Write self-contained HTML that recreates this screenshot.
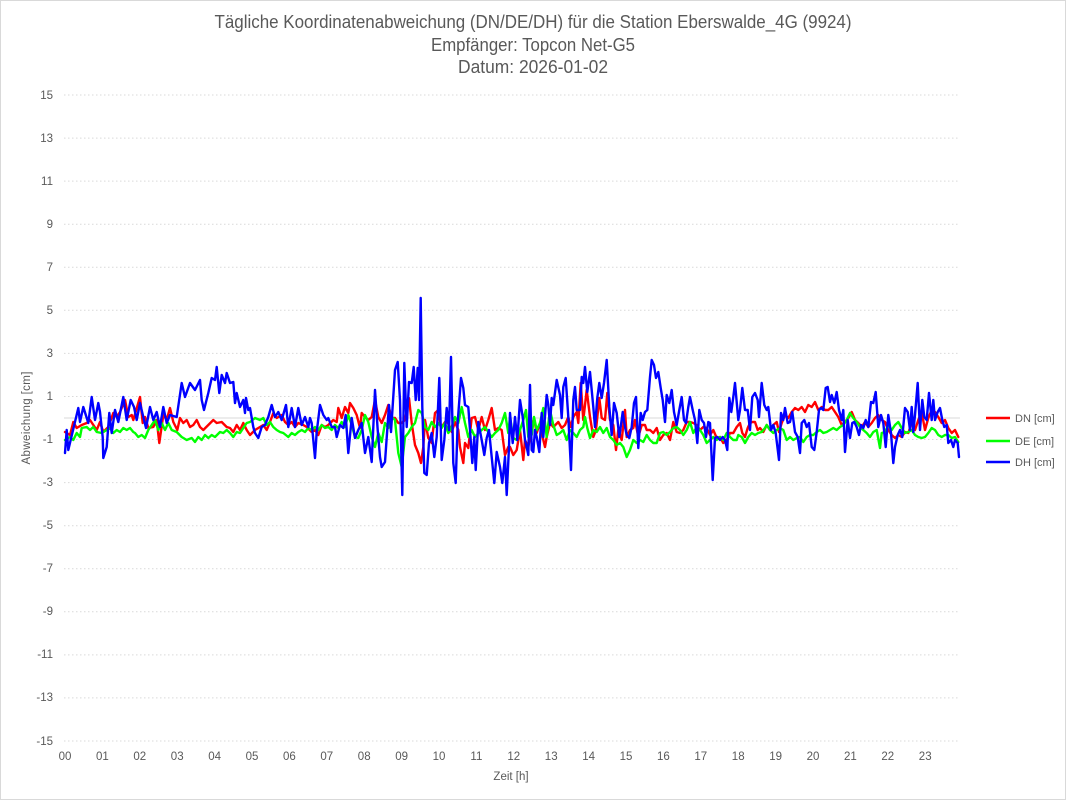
<!DOCTYPE html>
<html><head><meta charset="utf-8"><style>
html,body{margin:0;padding:0;background:#fff;}
svg{display:block;}
text{font-family:"Liberation Sans",Arial,sans-serif;fill:#595959;}
</style></head><body>
<svg width="1068" height="801" viewBox="0 0 1068 801" xmlns="http://www.w3.org/2000/svg">
<rect x="0.5" y="0.5" width="1065" height="799" fill="#fff" stroke="#d9d9d9" stroke-width="1"/>
<text x="533" y="28" font-size="18" text-anchor="middle" textLength="637" lengthAdjust="spacingAndGlyphs">Tägliche Koordinatenabweichung (DN/DE/DH) für die Station Eberswalde_4G (9924)</text>
<text x="533" y="51" font-size="18" text-anchor="middle" textLength="204" lengthAdjust="spacingAndGlyphs">Empfänger: Topcon Net-G5</text>
<text x="533" y="73" font-size="18" text-anchor="middle" textLength="150" lengthAdjust="spacingAndGlyphs">Datum: 2026-01-02</text>
<g stroke="#d9d9d9" stroke-width="1" stroke-dasharray="1.5 2.5">
<line x1="64" x2="960" y1="95" y2="95"/><line x1="64" x2="960" y1="138.1" y2="138.1"/><line x1="64" x2="960" y1="181.1" y2="181.1"/><line x1="64" x2="960" y1="224.2" y2="224.2"/><line x1="64" x2="960" y1="267.3" y2="267.3"/><line x1="64" x2="960" y1="310.3" y2="310.3"/><line x1="64" x2="960" y1="353.4" y2="353.4"/><line x1="64" x2="960" y1="396.5" y2="396.5"/><line x1="64" x2="960" y1="439.5" y2="439.5"/><line x1="64" x2="960" y1="482.6" y2="482.6"/><line x1="64" x2="960" y1="525.7" y2="525.7"/><line x1="64" x2="960" y1="568.7" y2="568.7"/><line x1="64" x2="960" y1="611.8" y2="611.8"/><line x1="64" x2="960" y1="654.9" y2="654.9"/><line x1="64" x2="960" y1="697.9" y2="697.9"/><line x1="64" x2="960" y1="741" y2="741"/>
</g>
<line x1="64" x2="960" y1="418" y2="418" stroke="#d9d9d9" stroke-width="1"/>
<g font-size="11.5" text-anchor="end">
<text x="53" y="99">15</text><text x="53" y="142">13</text><text x="53" y="185">11</text><text x="53" y="228">9</text><text x="53" y="271">7</text><text x="53" y="314">5</text><text x="53" y="357">3</text><text x="53" y="400">1</text><text x="53" y="443">-1</text><text x="53" y="486">-3</text><text x="53" y="529">-5</text><text x="53" y="572">-7</text><text x="53" y="615">-9</text><text x="53" y="658">-11</text><text x="53" y="701">-13</text><text x="53" y="745">-15</text>
</g>
<g font-size="11.5" text-anchor="middle">
<text x="65" y="760">00</text><text x="102.4" y="760">01</text><text x="139.8" y="760">02</text><text x="177.2" y="760">03</text><text x="214.6" y="760">04</text><text x="252" y="760">05</text><text x="289.4" y="760">06</text><text x="326.8" y="760">07</text><text x="364.2" y="760">08</text><text x="401.6" y="760">09</text><text x="439" y="760">10</text><text x="476.4" y="760">11</text><text x="513.8" y="760">12</text><text x="551.2" y="760">13</text><text x="588.6" y="760">14</text><text x="626" y="760">15</text><text x="663.4" y="760">16</text><text x="700.8" y="760">17</text><text x="738.2" y="760">18</text><text x="775.6" y="760">19</text><text x="813" y="760">20</text><text x="850.4" y="760">21</text><text x="887.8" y="760">22</text><text x="925.2" y="760">23</text>
</g>
<text x="511" y="780" font-size="11.5" text-anchor="middle">Zeit [h]</text>
<text transform="translate(30,418) rotate(-90)" x="0" y="0" font-size="11.5" text-anchor="middle" textLength="93" lengthAdjust="spacing">Abweichung [cm]</text>
<g fill="none" stroke-width="2.4" stroke-linejoin="round" stroke-linecap="round">
<polyline stroke="#ff0000" points="65,432 70,435 73.3,422 76.7,428 81.7,425 86.7,423 90,420 96.7,430 100,422 103.3,432 108.3,427 113.3,413 116.7,417 120,412 125,400 128.3,417 131.7,415 133.3,420 140,397 142.7,423 145,417 148.3,428 153.3,427 156.7,420 159.3,443 163.3,415 166.7,420 170,408 173.3,422 177.3,430 180,418 183.3,423 186.7,420 190,427 193.3,425 196.7,420 200,427 203.3,430 208.3,425 213.3,420 216.7,423 221.7,422 226.7,427 230,428 233.3,432 236.7,425 240,430 243.3,423 246.7,430 250,435 255,430 260,427 263.3,425 266.7,430 270,422 273.3,413 276.7,418 281.7,415 285,422 288.3,425 291.7,422 295,427 298.3,423 303.3,425 306.7,427 311.7,432 315,430 318.3,435 321.7,425 325,427 328.3,425 333.3,420 336.7,422 338.3,408 341.7,418 345,407 348.3,413 350,403 353.3,408 356.7,415 360,428 361.7,413 365,417 368.3,420 371.7,417 375,400 378.3,417 381.7,423 385,415 388.3,405 391.7,418 395,418 398.3,423 401.7,423 405,420 409,398 411.7,423 415,445 418.3,453 421,463 423.3,447 425,420 428.3,438 431.7,443 435,413 438.3,410 441,428 445,422 448.3,423 451.7,432 455,422 458.3,430 460,447 463.3,463 465,443 468.3,448 471.7,418 475,417 478.3,430 481.7,417 485,430 488.3,420 491.7,408 495,430 498.3,428 501.7,430 505,455 508.3,447 510,447 513.3,455 516.7,450 520,430 523.3,460 525,440 528.3,447 531.7,427 534,418 536.7,433 540,423 543.3,440 545,447 546.7,437 550,423 553.3,427 558.3,422 561.7,428 565,425 568.3,417 570.7,427 573.3,417 576.7,412 578.3,423 580.7,383 583.3,420 586.7,390 590,417 593.3,437 596,430 599.3,398 601.7,418 605,420 607.3,393 610,420 613.3,425 616,450 618.3,430 621.7,440 625,410 626.7,437 630,430 633.3,428 635,420 638.3,437 641.7,425 645,425 646.7,430 650,430 653.3,433 656.7,428 660,440 663.3,435 666.7,433 670,440 673.3,422 676.7,432 680,433 683.3,430 686.7,422 690,422 693.3,423 696.7,425 700,430 703.3,427 706.7,428 710,435 713.3,430 716.7,438 720,437 723.3,443 726.7,440 730,433 733.3,433 736.7,427 740,423 742.3,433 745,437 747.7,428 750,423 752.3,422 755,422 757.7,430 760,428 763.3,432 766.7,425 770,430 773.3,425 776.7,422 779,432 781.7,423 785,415 788.3,418 791.7,412 795,408 798.3,410 801.7,407 805,412 808.3,405 811.7,407 815,402 818.3,410 821.7,407 825,410 828.3,410 831.7,407 835,412 838.3,417 841.7,425 845,422 848.3,418 851.7,412 855,420 858.3,423 861.7,427 865,422 868.3,427 871.7,423 875,418 878.3,415 881.7,420 885,422 888.3,430 891.7,435 895,438 898.3,435 901.7,437 905,432 908.3,433 911.7,423 915,430 918.3,420 921.7,412 925,430 928.3,418 931.7,410 935,412 938.3,417 941.7,423 945,420 948.3,428 951.7,433 955,430 958.3,437"/>
<polyline stroke="#00ff00" points="65,440 70,437 73.3,440 76.7,433 80,437 81.7,428 86.7,427 90,430 93.3,427 96.7,432 101.7,433 106.7,430 110,428 113.3,433 116.7,430 120,432 123.3,428 126.7,430 130,428 133.3,432 135,433 138.3,437 141.7,435 145,438 148.3,430 151.7,425 155,420 158.3,430 161.7,423 165,430 168.3,423 171.7,430 176.7,432 181.7,437 186.7,440 191.7,438 195,442 198.3,437 201.7,440 205,435 208.3,438 211.7,435 215,437 220,432 223.3,433 226.7,430 230,433 233.3,437 236.7,432 240,433 243.3,428 246.7,423 250,422 255,418 260,420 263.3,418 266.7,425 270,422 273.3,427 276.7,430 280,432 283.3,433 288.3,437 291.7,433 295,435 298.3,432 301.7,430 305,432 308.3,428 311.7,430 315,427 318.3,430 321.7,425 325,428 328.3,427 331.7,430 335,425 338.3,428 341.7,422 345,427 348.3,415 351.7,425 355,437 358.3,438 361.7,430 365,415 368.3,422 371.7,437 375,447 378.3,433 381.7,442 385,423 388.3,428 391.7,417 395,420 398.3,453 401.7,467 405,437 408.3,433 411.7,427 415,423 418.3,410 421.7,413 425,427 428.3,430 431.7,422 435,427 438.3,423 441.7,428 445,423 448.3,433 451.7,427 455,417 458.3,423 461.7,407 465,423 468.3,437 471.7,430 475,437 478.3,433 481.7,430 485,427 488.3,432 491.7,437 495,433 498.3,430 501.7,423 505,413 508.3,433 510,417 513.3,438 516.7,440 520,430 523.3,420 526,410 528.3,437 531.7,435 534,417 536.7,430 540,423 543.3,408 546.7,437 550,410 553.3,425 556.7,435 560,433 563.3,430 566.7,440 570,430 573.3,433 576.7,437 580,430 583.3,427 585,417 587.3,428 590,438 593.3,430 596.7,432 600,427 603.3,433 606.7,428 610,437 613.3,440 616.7,445 620,443 623.3,447 626.7,457 630,450 633.3,440 636.7,443 640,440 643.3,442 646.7,435 650,440 653.3,443 656.7,443 660,433 663.3,432 666.7,435 670,432 673.3,428 676.7,427 680,430 683.3,435 686.7,430 690,422 693.3,433 696.7,427 700,430 703.3,435 706.7,443 710,440 713.3,437 716.7,440 720,437 723.3,440 726.7,433 730,437 733.3,440 736.7,440 738.3,435 741.7,437 745,443 748.3,437 751.7,433 755,435 758.3,433 761.7,432 765,428 766.7,425 770,430 773.3,433 776.7,430 780,428 783.3,430 786.7,440 790,437 793.3,440 796.7,438 800,437 803.3,442 806.7,437 810,435 813.3,435 816.7,432 820,430 823.3,433 826.7,432 830,430 833.3,428 836.7,430 840,427 843.3,425 846.7,420 850,413 853.3,418 856.7,422 860,427 863.3,430 866.7,433 870,437 873.3,432 876.7,430 880,448 881.7,433 885,432 888.3,425 891.7,430 895,425 898.3,422 901.7,428 905,433 908.3,432 911.7,430 915,435 918.3,437 921.7,438 925,437 928.3,433 931.7,428 935,430 938.3,435 941.7,437 945,435 948.3,435 951.7,438 955,437 958.3,442"/>
<polyline stroke="#0000ff" points="65,453 66.7,430 68.3,450 78.3,408 80,422 83.3,407 88.3,423 91.7,397 95,420 98.3,403 100,412 102.7,437 103.3,458 106.7,447 109.3,413 111.7,433 115,410 118.3,422 123.3,397 126.7,420 130.7,400 134,407 136.7,420 140,403 143.3,417 146,428 150,407 153.3,420 156.7,412 160,427 163.3,407 166.7,423 170,415 176.7,417 181.7,383 185,397 190,383 195,390 200,380 201.7,400 204,410 208.3,393 211.7,378 215,380 216.7,367 219.3,393 221.7,375 225,383 226.7,373 230,383 233.3,382 235,403 236.7,393 240,407 243.3,400 245,413 246,398 248.3,410 250,408 253.3,427 255,433 258.3,438 261.7,427 265,425 268.3,417 271.7,405 275,417 278.3,412 281.7,420 286,405 288.3,427 291.7,408 295,427 298.3,408 301.7,425 305,417 308.3,427 310,418 311.7,423 315,458 316.7,432 320,405 323.3,415 326.7,420 328.3,418 331.7,427 335,427 336.7,437 340,425 343.3,428 345.7,415 348.3,453 351.7,418 355,438 358.3,430 361.7,423 365,453 368.3,437 371.7,462 375,390 377.7,430 380,457 381.7,467 385,462 389,405 391,432 395,370 397.7,362 400,400 402.3,495 404.3,363 406.7,427 409,382 411.7,383 413.7,367 415.7,400 417.7,368 419,400 420.7,298 422.3,407 424.3,473 426.7,475 429,443 431.7,433 434.3,457 436.7,437 439.3,378 441.7,460 444.3,440 446.7,408 449,430 451,357 453.3,463 455.7,483 457.7,422 461,378 463.3,388 465,405 468.3,407 470,430 472.3,463 474.3,437 475.7,470 478.3,422 481.7,440 484.3,455 486.7,438 489,430 491.7,457 494.3,483 496.7,452 500,467 502.3,483 505,457 506.7,495 509,447 510,413 512.7,443 515,417 517.3,440 520,400 522.7,417 525,440 527.3,450 528.3,455 530,385 531.7,450 533.3,452 535,430 536.7,437 539.3,452 541.7,413 543.3,437 546.7,395 548.3,405 550,425 551.7,398 553.3,405 556.7,380 560,395 561.7,418 563.3,387 565.7,378 568.3,417 571,470 573.3,400 575,387 576.7,410 580,410 581.7,377 583.3,383 585,367 587.3,392 590,372 593.3,407 595,427 597.3,398 599.3,383 601.7,398 604,383 606.7,360 609.3,407 611.7,435 614,403 616.7,413 619.3,437 620.7,427 622.7,412 625,427 626.7,435 629.3,438 631.7,427 634,403 636,397 638.3,448 640.7,413 642.7,420 645,412 647.3,410 650,377 651.7,360 654,365 656,378 658.3,372 660.7,388 662.7,400 665,422 666.7,395 669.3,403 671.7,390 674,412 676.7,425 679.3,410 681.7,397 684,420 686,423 688.3,407 690,397 692.7,410 695,420 697.3,443 699.3,410 701.7,420 704,423 706,437 708.3,422 710,423 712.7,480 715,438 717.3,437 720,440 722.7,437 725,440 727.3,450 729.3,398 731.3,412 733.3,397 735,383 738.3,420 740,410 742.3,388 745,410 747.7,410 750,430 752.3,397 755,393 757.7,400 759,417 761.7,383 764.3,405 766.7,410 768.3,407 771,430 773.3,425 775.7,433 779,460 781,413 783.3,420 785,408 787.7,423 790,422 792.3,412 795,432 797.7,437 800,453 801.7,423 804.3,420 806.7,427 809,423 811.7,447 814.3,450 816.7,432 819,410 821,408 823.3,410 825.7,388 827.7,387 830,402 831.7,395 834.3,403 836.7,392 839,410 841.7,420 843.3,410 845,452 847.7,420 850,438 852.3,423 854.3,422 856.7,427 859,435 861,425 863.3,428 865.7,420 868.3,427 871,402 873.3,403 875.7,392 878.3,427 881,415 883.3,423 885.7,447 888.3,415 891,433 893.3,463 895,447 897.7,435 900,430 902.3,437 905,408 907.7,412 910,430 911.7,407 913.3,432 915,415 917.7,383 920,430 922.3,400 924.3,417 926.7,420 929,393 931.7,420 933.3,400 935,420 937.7,412 940,408 942.3,420 944.3,427 946.7,425 948.3,443 951,440 953.3,447 955,440 957.7,443 959,457"/>
</g>
<g stroke-width="2.6">
<line x1="986" x2="1010" y1="418" y2="418" stroke="#ff0000"/>
<line x1="986" x2="1010" y1="441" y2="441" stroke="#00ff00"/>
<line x1="986" x2="1010" y1="462" y2="462" stroke="#0000ff"/>
</g>
<g font-size="11">
<text x="1015" y="422">DN [cm]</text>
<text x="1015" y="445">DE [cm]</text>
<text x="1015" y="466">DH [cm]</text>
</g>
</svg>
</body></html>
